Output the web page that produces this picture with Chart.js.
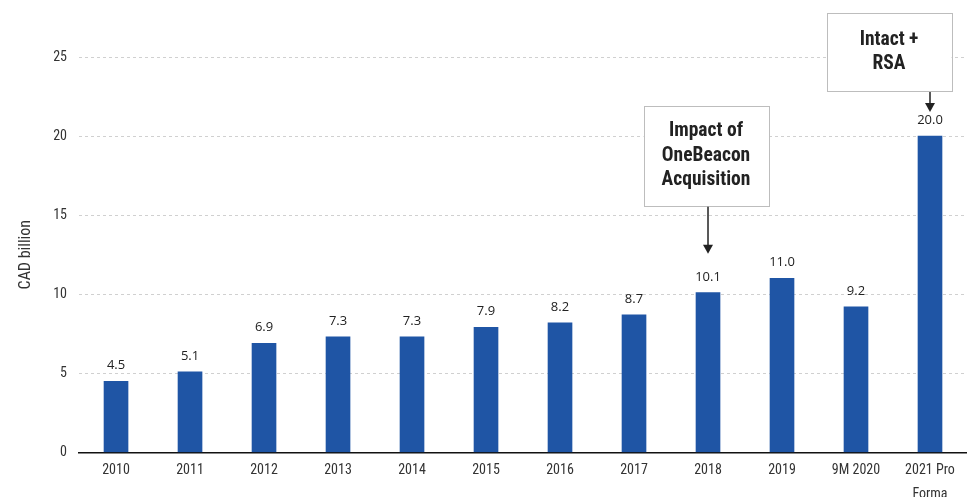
<!DOCTYPE html>
<html>
<head>
<meta charset="utf-8">
<script src="https://cdn.jsdelivr.net/npm/chart.js@4/dist/chart.umd.min.js"></script>
<style>
  html, body { margin: 0; padding: 0; background: #fff; overflow: hidden; }
  #wrap { width: 967px; height: 497px; overflow: hidden; }
  #inner { width: 967px; height: 512px; position: relative; }
</style>
</head>
<body>
<div id="wrap"><div id="inner"><canvas id="c"></canvas></div></div>
<script>
// 데이터
const categories = ['2010', '2011', '2012', '2013', '2014', '2015', '2016', '2017', '2018', '2019', '9M 2020', ['2021 Pro', 'Forma']];
const values = [4.5, 5.1, 6.9, 7.3, 7.3, 7.9, 8.2, 8.7, 10.1, 11.0, 9.2, 20.0];
const yTicks = [0, 5, 10, 15, 20, 25];
// tip/box: 막대 위에서 화살표 끝, 박스 아래까지의 거리 (px), shift: 박스 가로 이동
const notes = [
  { index: 8, lines: ['Impact of', 'OneBeacon', 'Acquisition'], tip: 39, box: 87, shift: -2 },
  { index: 11, lines: ['Intact +', 'RSA'], tip: 24, box: 45, shift: -41 }
];

const narrow = '"Liberation Sans Narrow", "Arial Narrow", "Roboto Condensed", sans-serif';

// 막대 위 값 표시
const valueLabels = {
  id: 'valueLabels',
  afterDatasetsDraw(chart) {
    const ctx = chart.ctx;
    const meta = chart.getDatasetMeta(0);
    ctx.save();
    ctx.font = '13px "Open Sans", sans-serif';
    ctx.fillStyle = '#222';
    ctx.textAlign = 'center';
    ctx.textBaseline = 'alphabetic';
    meta.data.forEach((bar, i) => {
      ctx.fillText(values[i].toFixed(1), bar.x, bar.y - 12);
    });
    ctx.restore();
  }
};

// 주석 박스 + 화살표
const noteBoxes = {
  id: 'noteBoxes',
  afterDraw(chart) {
    const ctx = chart.ctx;
    const meta = chart.getDatasetMeta(0);
    ctx.save();
    notes.forEach(n => {
      const bar = meta.data[n.index];
      const cx = bar.x;
      const tipY = bar.y - n.tip;
      const boxBottom = bar.y - n.box;
      const lineH = 24.5;
      const boxW = 125;
      const boxH = n.lines.length === 3 ? 100 : 78;
      const boxTop = boxBottom - boxH;
      const bcx = cx + n.shift;
      const bx = bcx - boxW / 2;
      ctx.fillStyle = '#fff';
      ctx.fillRect(bx, boxTop, boxW, boxH);
      ctx.strokeStyle = '#bdbdbd';
      ctx.lineWidth = 1;
      ctx.strokeRect(Math.round(bx) + 0.5, Math.round(boxTop) + 0.5, boxW, boxH);
      ctx.fillStyle = '#222';
      ctx.font = 'bold 19.5px ' + narrow;
      ctx.textAlign = 'center';
      ctx.textBaseline = 'middle';
      const startY = boxTop + boxH / 2 - (n.lines.length - 1) * lineH / 2;
      n.lines.forEach((t, k) => ctx.fillText(t, bcx, startY + k * lineH));
      // 화살표
      ctx.strokeStyle = '#222';
      ctx.lineWidth = 1.5;
      ctx.beginPath();
      ctx.moveTo(cx, boxBottom + 1);
      ctx.lineTo(cx, tipY - 6);
      ctx.stroke();
      ctx.beginPath();
      ctx.moveTo(cx - 5, tipY - 9);
      ctx.lineTo(cx + 5, tipY - 9);
      ctx.lineTo(cx, tipY);
      ctx.closePath();
      ctx.fill();
    });
    ctx.restore();
  }
};

new Chart(document.getElementById('c'), {
  type: 'bar',
  data: {
    labels: categories,
    datasets: [{
      data: values,
      backgroundColor: '#1f55a5',
      borderWidth: 0,
      barThickness: 24
    }]
  },
  options: {
    responsive: true,
    maintainAspectRatio: false,
    animation: false,
    layout: { padding: { top: 57, right: 0, left: 12, bottom: 0 } },
    plugins: { legend: { display: false }, tooltip: { enabled: false } },
    scales: {
      x: {
        grid: { display: false, drawTicks: false },
        border: { display: true, color: '#111', width: 1.5 },
        ticks: {
          color: '#333',
          padding: 6,
          maxRotation: 0,
          autoSkip: false,
          font: { family: narrow, size: 14, lineHeight: 1.7 }
        }
      },
      y: {
        min: 0,
        max: 25,
        afterBuildTicks: axis => { axis.ticks = yTicks.map(v => ({ value: v })); },
        grid: { color: '#d0d0d0', drawTicks: false },
        border: { display: false, dash: [3, 3] },
        ticks: {
          color: '#333',
          padding: 12,
          font: { family: narrow, size: 14 }
        },
        title: {
          display: true,
          text: 'CAD billion',
          color: '#333',
          padding: { bottom: 6 },
          font: { family: narrow, size: 16 }
        }
      }
    }
  },
  plugins: [valueLabels, noteBoxes]
});
</script>
</body>
</html>
